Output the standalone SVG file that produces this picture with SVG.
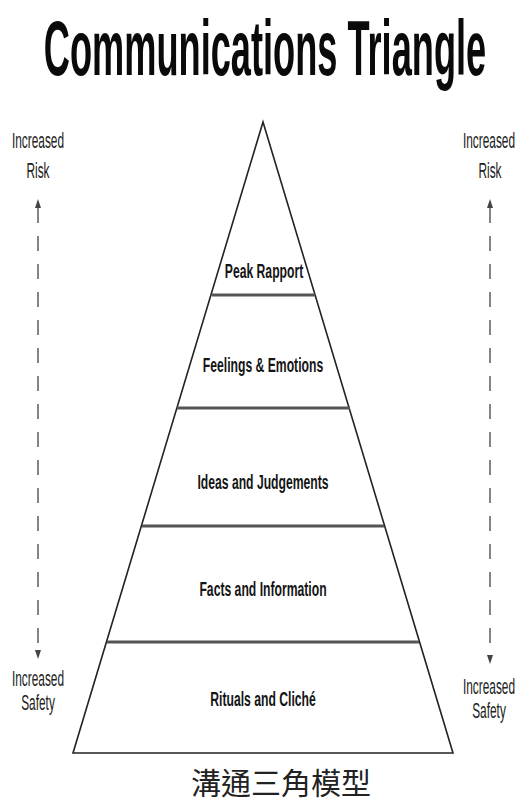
<svg xmlns="http://www.w3.org/2000/svg" width="517" height="803" viewBox="0 0 517 803">
<style>
.title{font-family:"Liberation Sans",Arial,sans-serif;font-weight:bold;font-size:77px;fill:#0a0a0a;text-anchor:middle}
.lvl{font-family:"Liberation Sans",Arial,sans-serif;font-weight:bold;font-size:21px;fill:#151515;text-anchor:middle}
.side{font-family:"Liberation Sans",Arial,sans-serif;font-size:22px;fill:#222;text-anchor:middle}
.cap{font-family:"Noto Sans CJK TC","Noto Sans CJK SC",sans-serif;font-size:30px;fill:#222;text-anchor:middle}
.edge{stroke:#222;stroke-width:1.6;fill:none}
.div{stroke:#555;stroke-width:3;fill:none}
.dash{stroke:#666;stroke-width:1.6;stroke-dasharray:15 13;fill:none}
.head{fill:#444}
</style>
<text class="title" transform="translate(265,75) scale(0.47,1)">Communications Triangle</text>
<g id="pyramid">
<polygon class="edge" points="263,122 453,753 73,753"/>
</g>
<g id="level-peak-rapport">
<text class="lvl" transform="translate(264,278) scale(0.58,1)">Peak Rapport</text>
<line class="div" x1="212" y1="295" x2="315" y2="295"/>
</g>
<g id="level-feelings">
<text class="lvl" transform="translate(263,372) scale(0.58,1)">Feelings &amp; Emotions</text>
<line class="div" x1="177" y1="408" x2="350" y2="408"/>
</g>
<g id="level-ideas">
<text class="lvl" transform="translate(263,489) scale(0.58,1)">Ideas and Judgements</text>
<line class="div" x1="142" y1="526" x2="384" y2="526"/>
</g>
<g id="level-facts">
<text class="lvl" transform="translate(263,596) scale(0.58,1)">Facts and Information</text>
<line class="div" x1="107" y1="642" x2="419" y2="642"/>
</g>
<g id="level-rituals">
<text class="lvl" transform="translate(263,706) scale(0.58,1)">Rituals and Cliché</text>
</g>
<g id="left-scale">
<text class="side" transform="translate(38,148) scale(0.54,1)">Increased</text>
<text class="side" transform="translate(38,178) scale(0.54,1)">Risk</text>
<text class="side" transform="translate(38,686) scale(0.54,1)">Increased</text>
<text class="side" transform="translate(38,710) scale(0.54,1)">Safety</text>
</g>
<g id="right-scale">
<text class="side" transform="translate(489,148) scale(0.54,1)">Increased</text>
<text class="side" transform="translate(490,178) scale(0.54,1)">Risk</text>
<text class="side" transform="translate(489,694) scale(0.54,1)">Increased</text>
<text class="side" transform="translate(489,718) scale(0.54,1)">Safety</text>
</g>
<g id="connectors">
<line class="dash" x1="38" y1="208" x2="38" y2="650"/>
<polygon class="head" points="38,199 35,208 41,208"/>
<polygon class="head" points="38,659 35,650 41,650"/>
<line class="dash" x1="490" y1="208" x2="490" y2="655"/>
<polygon class="head" points="490,199 487,208 493,208"/>
<polygon class="head" points="490,664 487,655 493,655"/>
</g>
<text class="cap" x="281" y="794">溝通三角模型</text>
</svg>
